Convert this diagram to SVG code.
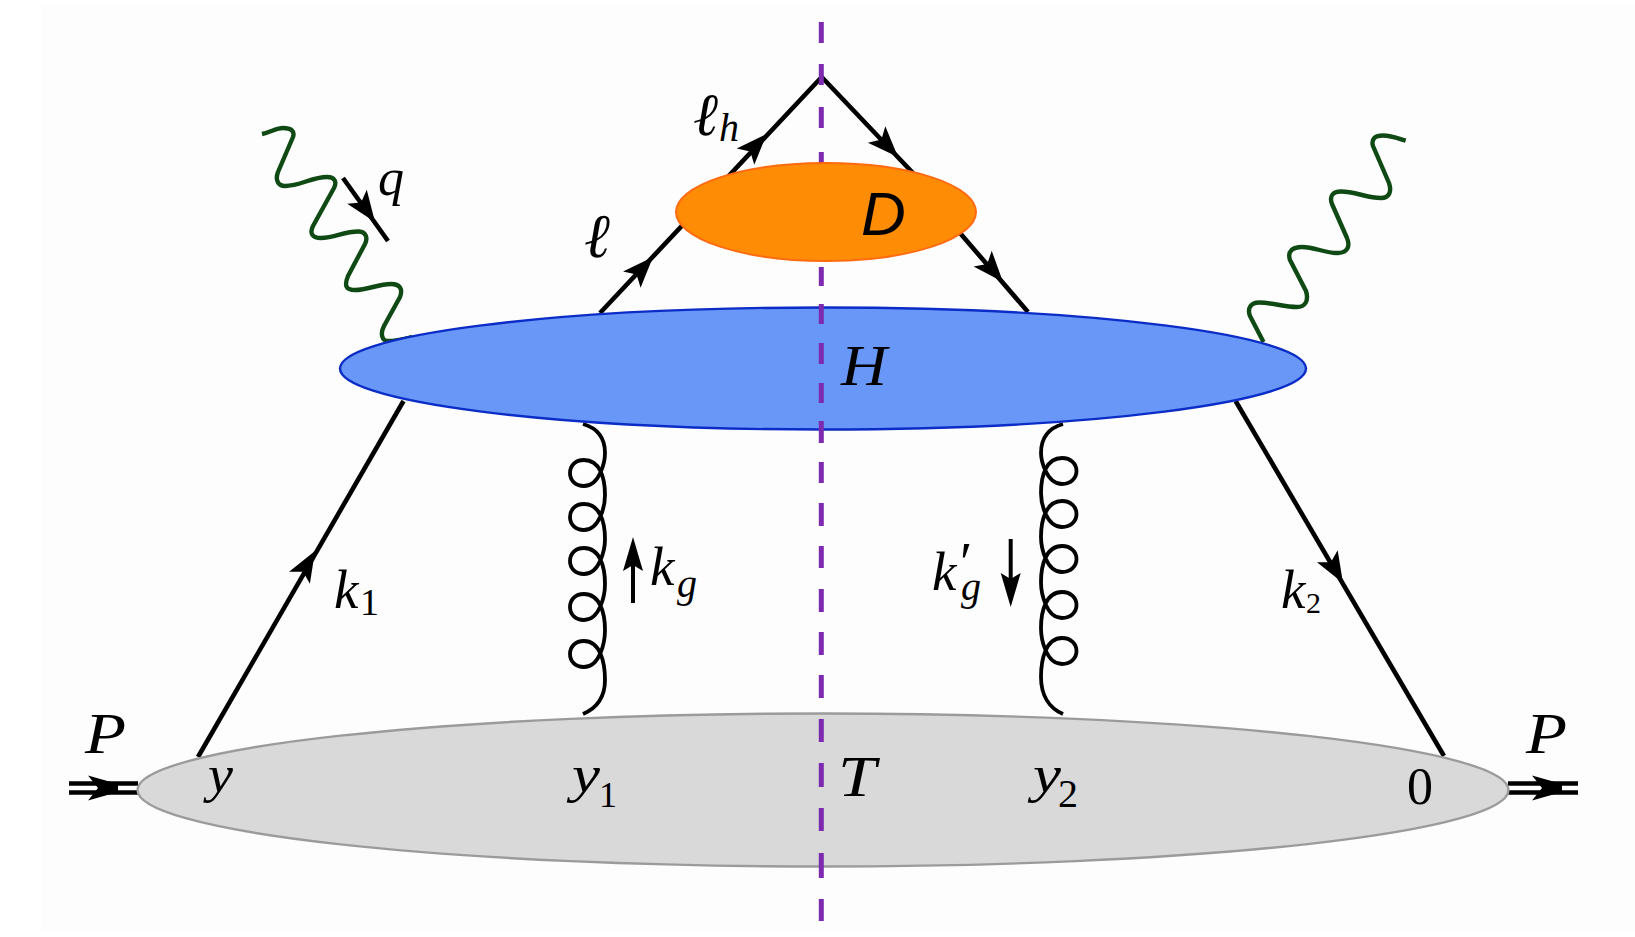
<svg xmlns="http://www.w3.org/2000/svg" width="1635" height="937" viewBox="0 0 1635 937">
<style>
.l{fill:none;stroke:#000;stroke-width:4.6;stroke-linecap:butt}
.thin{stroke-width:4}
.g{fill:none;stroke:#000;stroke-width:3.8}
.ph{fill:none;stroke:#0f4a14;stroke-width:4.4;stroke-linejoin:round}
.cut{fill:none;stroke:#7d2ab0;stroke-width:5}
.m{font-family:"Liberation Serif",serif;font-style:italic;fill:#000}
.r{font-family:"Liberation Serif",serif;fill:#000}
</style>
<defs>
<path id="ah" d="M0,0 L-31,-12 L-24,0 L-31,12 Z" fill="#000"/>
<path id="av" d="M0,0 L-34,-10 L-28,0 L-34,10 Z" fill="#000"/>
<path id="ap" d="M0,-4 L-30,-12.5 L-20,0 L-30,12.5 L0,4 Z" fill="#000"/>
</defs>
<rect width="1635" height="937" fill="#fff"/>
<rect x="41" y="4" width="1594" height="929" fill="#fdfdfd"/>
<g id="connectors">
<path class="l" d="M198,757 L403.5,401"/>
<path class="l" d="M600,313 L821.7,77 L911.7,171.7 L961.7,235 L1028,312"/>
<path class="l" d="M1235.6,401 L1444,756"/>
<path class="l" d="M343,178 L388,241"/>
<path class="l thin" d="M633,603 V560"/>
<path class="l thin" d="M1010.7,539 V585"/>
<path class="l" d="M69,783.5 H138 M69,792.5 H138"/>
<path class="l" d="M1508,783.5 H1578 M1508,792.5 H1578"/>
<use href="#ah" transform="translate(315,551) rotate(-60)"/>
<use href="#ah" transform="translate(653,257) rotate(-46.9)"/>
<use href="#ah" transform="translate(766.7,134) rotate(-46.9)"/>
<use href="#ah" transform="translate(898,157) rotate(46.4)"/>
<use href="#ah" transform="translate(1003,282) rotate(49)"/>
<use href="#ah" transform="translate(1343,583) rotate(59.6)"/>
<use href="#ah" transform="translate(375,222) rotate(54.5)"/>
<use href="#av" transform="translate(633,537) rotate(-90)"/>
<use href="#av" transform="translate(1010.7,607) rotate(90)"/>
<use href="#ap" transform="translate(118,788)"/>
<use href="#ap" transform="translate(1562,788)"/>
<path class="ph" d="M262,134 C272,132 276,128 283,128 C291,128 295,131 293,137 L278,172 C275,180 278,186 285,186 C300,186 312,177 327,177 C335,177 337,182 334,188 L313,226 C309,234 313,238 321,238 C335,238 345,231 359,231.5 C366,232 368,238 365,244 L348,276 C344,286 346,290 355,290 C368,290 378,284 391,284 C400,284 403,289 400,297 L384,326 C380,334 382,341 388,341 C397,341 404,339 412,337"/>
<path class="ph" d="M1405.7,140.7 C1397,138 1391,135.5 1383,135.5 C1375,135.5 1371,139 1373,146 L1389,183 C1392,192 1389,198 1381,198 C1367,198 1355,191.5 1341,191.5 C1333,191.5 1329,196 1332,204 L1347,238 C1351,248 1346,253 1337,253 C1324,253 1315,247 1302,247 C1293,247 1287,251 1290,260 L1306,291 C1309,301 1305,307 1297,307 C1284,307 1272,302.5 1259,302.5 C1251,302.5 1247,308 1250,316 L1263.5,342"/>
<path class="g" d="M583,424 C597,428 605,438 605,453 C605,461 600,486 584,486 C575,486 570,480 570,473 C570,466 575,460 584,460 C600,460 605,478 605,495 C605,505 600,530 584,530 C575,530 570,524 570,517 C570,510 575,504 584,504 C600,504 605,522 605,539 C605,549 600,574 584,574 C575,574 570,568 570,561 C570,554 575,548 584,548 C600,548 605,567 605,584 C605,595 600,620 584,620 C575,620 570,614 570,607 C570,600 575,594 584,594 C600,594 605,613 605,630 C605,642 600,667 584,667 C575,667 570,661 570,654 C570,647 575,641 584,641 C600,641 605,662 605,680 C605,697 597,708 583,714"/>
<path class="g" d="M1063,424 C1049,428 1041,438 1041,453 C1041,459 1046,484 1062,484 C1071,484 1076.5,478 1076.5,471 C1076.5,464 1071,458 1062,458 C1046,458 1041,476 1041,493 C1041,503 1046,527 1062,527 C1071,527 1076.5,521 1076.5,514 C1076.5,507 1071,501 1062,501 C1046,501 1041,520 1041,537 C1041,547 1046,572 1062,572 C1071,572 1076.5,566 1076.5,559 C1076.5,552 1071,546 1062,546 C1046,546 1041,565 1041,582 C1041,593 1046,618 1062,618 C1071,618 1076.5,612 1076.5,605 C1076.5,598 1071,592 1062,592 C1046,592 1041,611 1041,628 C1041,639 1046,664 1062,664 C1071,664 1076.5,658 1076.5,651 C1076.5,644 1071,638 1062,638 C1046,638 1041,659 1041,677 C1041,695 1049,708 1063,714"/>
</g>
<g id="node-H">
<ellipse cx="823" cy="368.5" rx="483" ry="61" fill="#6897f8" stroke="#0b2cc6" stroke-width="2.4"/>
<text class="m" x="841" y="385" font-size="58" textLength="46" lengthAdjust="spacingAndGlyphs">H</text>
</g>
<g id="node-T">
<ellipse cx="823" cy="790" rx="685.5" ry="76.5" fill="#d9d9d9" stroke="#9b9b9b" stroke-width="2.4"/>
<text class="m" x="838" y="796" font-size="58" textLength="38" lengthAdjust="spacingAndGlyphs">T</text>
<text class="m" x="208" y="792" font-size="52" textLength="25" lengthAdjust="spacingAndGlyphs">y</text>
<text class="m" x="572" y="792" font-size="52" textLength="28" lengthAdjust="spacingAndGlyphs">y</text>
<text class="r" x="599" y="807" font-size="36">1</text>
<text class="m" x="1033" y="792" font-size="52" textLength="28" lengthAdjust="spacingAndGlyphs">y</text>
<text class="r" x="1058" y="807" font-size="40">2</text>
<text class="r" x="1407" y="804" font-size="52">0</text>
</g>
<g id="cut-line">
<path class="cut" d="M821.3,22V43M821.3,64V85M821.3,107V128M821.3,152V173M821.3,267V286M821.3,304V324M821.3,343V364M821.3,383V403M821.3,421V443M821.3,462V483M821.3,503V526M821.3,546V568M821.3,589V612M821.3,632V655M821.3,675V698M821.3,719V742M821.3,763V787M821.3,808V831M821.3,853V878M821.3,899V921"/>
</g>
<g id="node-D">
<ellipse cx="826" cy="212" rx="150" ry="49" fill="#ff8c05" stroke="#ff6a10" stroke-width="2"/>
<text x="861" y="235" font-size="62" font-style="italic" font-family="Liberation Sans, sans-serif" fill="#000">D</text>
</g>
<g id="labels">
<text class="m" x="85" y="753" font-size="58" textLength="41" lengthAdjust="spacingAndGlyphs">P</text>
<text class="m" x="1526" y="753" font-size="58" textLength="41" lengthAdjust="spacingAndGlyphs">P</text>
<text class="m" x="378" y="195" font-size="52">q</text>
<text class="m" x="584" y="257" font-size="62">ℓ</text>
<text class="m" x="693" y="135" font-size="60">ℓ</text>
<text class="m" x="719" y="141" font-size="40">h</text>
<text class="m" x="334" y="608" font-size="55">k</text>
<text class="r" x="360" y="615" font-size="38">1</text>
<text class="m" x="650" y="585" font-size="55">k</text>
<text class="m" x="677" y="597" font-size="40">g</text>
<text class="m" x="932" y="590" font-size="55">k</text>
<text class="m" x="961" y="600" font-size="40">g</text>
<text class="r" x="960" y="582" font-size="56">′</text>
<text class="m" x="1281" y="608" font-size="55">k</text>
<text class="r" x="1306" y="613" font-size="30">2</text>
</g>
</svg>
